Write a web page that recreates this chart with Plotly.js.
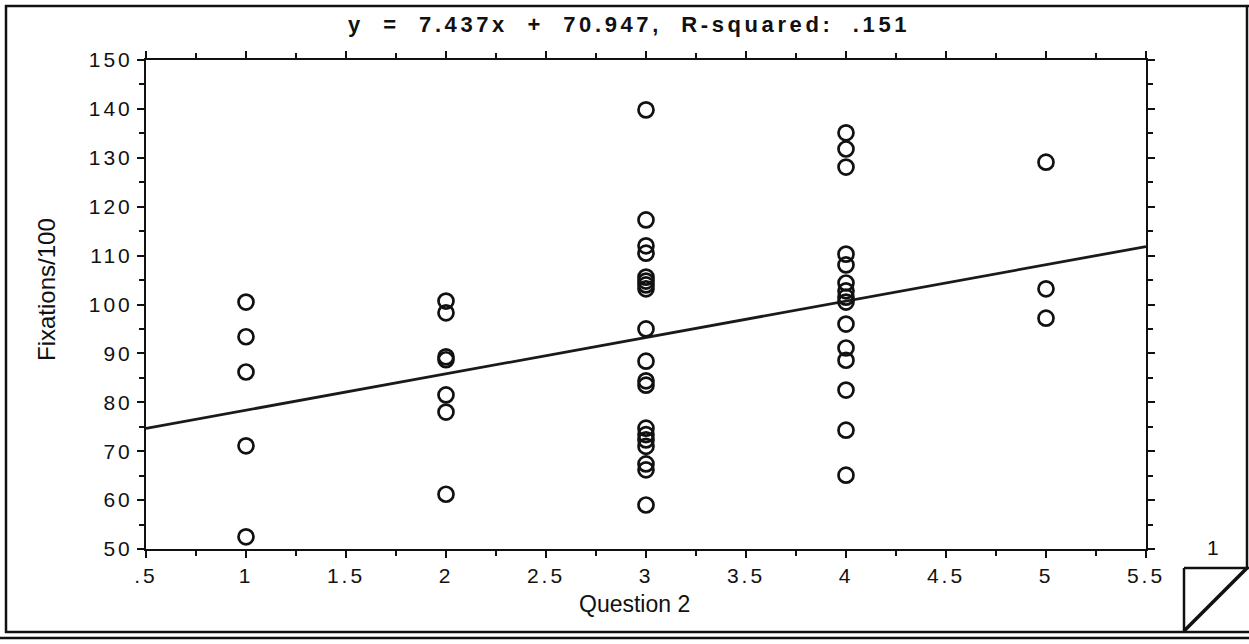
<!DOCTYPE html>
<html>
<head>
<meta charset="utf-8">
<script src="https://cdn.plot.ly/plotly-3.0.1.min.js"></script>
<style>
html,body{margin:0;padding:0;background:#fff;}
#chart{width:1249px;height:644px;}
.xtick text, .ytick text { letter-spacing: 3px; }
.gtitle { letter-spacing: 3.6px; }
</style>
</head>
<body>
<div id="chart"></div>
<script>
// Question 2 answer (x) and Fixations/100 (y)
const q1 = [100.5, 93.4, 86.2, 71.1, 52.5];
const q2 = [100.7, 98.3, 89.3, 88.7, 81.5, 78.0, 61.2];
const q3 = [139.8, 117.3, 112.0, 110.5, 105.6, 104.8, 104.0, 103.2, 95.0, 88.4, 84.4, 83.5, 74.7, 73.4, 72.3, 71.0, 67.4, 66.2, 59.0];
const q4 = [135.1, 131.8, 128.1, 110.3, 108.1, 104.4, 102.8, 101.5, 100.5, 96.0, 91.1, 88.6, 82.5, 74.3, 65.1];
const q5 = [129.1, 103.2, 97.2];
const groups = [1, 2, 3, 4, 5];
const groupValues = [q1, q2, q3, q4, q5];

const slope = 7.437;
const intercept = 70.947;
const xRange = [0.5, 5.5];
const yRange = [50, 150];

const xTickVals = [0.5, 1, 1.5, 2, 2.5, 3, 3.5, 4, 4.5, 5, 5.5];
const xTickText = ['.5', '1', '1.5', '2', '2.5', '3', '3.5', '4', '4.5', '5', '5.5'];
const yTickVals = [50, 60, 70, 80, 90, 100, 110, 120, 130, 140, 150];
const yTickText = ['50', '60', '70', '80', '90', '100', '110', '120', '130', '140', '150'];

const xs = [], ys = [];
groups.forEach((g, i) => groupValues[i].forEach(v => { xs.push(g); ys.push(v); }));

const fitX = xRange.slice();
const fitY = fitX.map(x => slope * x + intercept);

const W = 1249, H = 644;
const L = 146, R = 103, T = 60, B = 95;
const pw = W - L - R, ph = H - T - B;
const px = p => (p - L) / pw;
const py = p => (H - B - p) / ph;

const font = 'Liberation Sans, Arial, sans-serif';

const traces = [
  {x: fitX, y: fitY, mode: 'lines', line: {color: '#1a1a1a', width: 2.8}, hoverinfo: 'skip', showlegend: false},
  {x: xs, y: ys, mode: 'markers', type: 'scatter',
   marker: {symbol: 'circle-open', size: 15, color: '#111', line: {width: 2.7, color: '#111'}},
   showlegend: false}
];

const axisCommon = {
  showgrid: false, zeroline: false, showline: true, linecolor: '#111', linewidth: 2,
  mirror: 'allticks', ticks: 'outside', ticklen: 7, tickwidth: 2, tickcolor: '#111',
  tickfont: {family: font, size: 21, color: '#111'}
};

const layout = {
  width: W, height: H,
  margin: {l: L, r: R, t: T, b: B},
  paper_bgcolor: '#fff', plot_bgcolor: '#fff',
  title: {text: '<b>y  =  7.437x  +  70.947,  R-squared:  .151</b>', x: 629 / W, xanchor: 'center', y: 1 - 24 / H, yanchor: 'middle',
          font: {family: font, size: 22, color: '#111'}},
  xaxis: Object.assign({}, axisCommon, {
    range: xRange, tickmode: 'array', tickvals: xTickVals, ticktext: xTickText,
    minor: {dtick: 0.25, tick0: 0.5, ticks: 'outside', ticklen: 5, tickwidth: 2, tickcolor: '#111'}
  }),
  yaxis: Object.assign({}, axisCommon, {
    range: yRange, tickmode: 'array', tickvals: yTickVals, ticktext: yTickText,
    minor: {dtick: 5, tick0: 50, ticks: 'outside', ticklen: 5, tickwidth: 2, tickcolor: '#111'}
  }),
  shapes: [
    // outer frame
    {type: 'line', xref: 'paper', yref: 'paper', x0: px(6), x1: px(6), y0: py(5), y1: py(633), line: {color: '#111', width: 2.5}},
    {type: 'line', xref: 'paper', yref: 'paper', x0: px(5), x1: px(1249), y0: py(6), y1: py(6), line: {color: '#111', width: 2.5}},
    {type: 'line', xref: 'paper', yref: 'paper', x0: px(1247), x1: px(1247), y0: py(5), y1: py(568), line: {color: '#111', width: 2.5}},
    {type: 'line', xref: 'paper', yref: 'paper', x0: px(5), x1: px(1249), y0: py(632), y1: py(632), line: {color: '#111', width: 2.5}},
    {type: 'line', xref: 'paper', yref: 'paper', x0: px(0), x1: px(1249), y0: py(638), y1: py(638), line: {color: '#111', width: 2.5}},
    // page curl box
    {type: 'line', xref: 'paper', yref: 'paper', x0: px(1184), x1: px(1184), y0: py(568), y1: py(632), line: {color: '#111', width: 2.5}},
    {type: 'line', xref: 'paper', yref: 'paper', x0: px(1184), x1: px(1249), y0: py(568), y1: py(568), line: {color: '#111', width: 2.5}},
    {type: 'line', xref: 'paper', yref: 'paper', x0: px(1184), x1: px(1247), y0: py(631), y1: py(568), line: {color: '#111', width: 3.5}}
  ],
  annotations: [
    {xref: 'paper', yref: 'paper', x: px(1213), y: py(547), text: '1', showarrow: false,
     font: {family: font, size: 21, color: '#111'}, xanchor: 'center', yanchor: 'middle'},
    {xref: 'paper', yref: 'paper', x: px(634), y: py(604), text: 'Question 2', showarrow: false,
     font: {family: font, size: 23, color: '#111'}, xanchor: 'center', yanchor: 'middle'},
    {xref: 'paper', yref: 'paper', x: px(46), y: py(290), text: 'Fixations/100', showarrow: false, textangle: -90,
     font: {family: font, size: 24, color: '#111'}, xanchor: 'center', yanchor: 'middle'}
  ]
};

Plotly.newPlot('chart', traces, layout, {displayModeBar: false, staticPlot: true});
</script>
</body>
</html>
